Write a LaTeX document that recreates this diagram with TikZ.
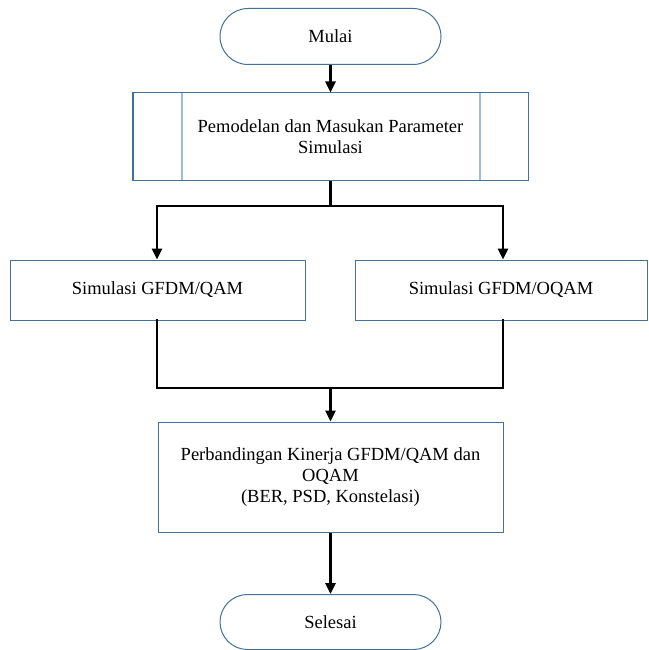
\documentclass[tikz,border=0pt]{standalone}
\usepackage{fontspec}
\setmainfont{Liberation Serif}
\usetikzlibrary{shapes.misc,arrows.meta,calc}
\definecolor{edgeblue}{RGB}{65,113,156}
\definecolor{innerblue}{RGB}{160,186,214}
\begin{document}
\begin{tikzpicture}[x=1pt,y=-1pt,
  every node/.style={font=\fontsize{18.5}{21}\selectfont, inner sep=0pt, align=center},
  term/.style={rounded rectangle, draw=edgeblue, line width=1pt, minimum width=221pt, minimum height=56pt},
  boxx/.style={rectangle, draw=edgeblue, line width=1pt},
  conn/.style={line width=2.6pt, black},
  arr/.style={conn, -{Triangle[width=10pt,length=11pt]}}
]
\useasboundingbox (0,0) rectangle (648,650);
\node[term] (start) at (330.5,36.5) {Mulai};
\node[boxx, minimum width=395pt, minimum height=87pt] (proc) at (330.5,136.5) {Pemodelan dan Masukan Parameter\\Simulasi};
\draw[innerblue, line width=2pt] ($(proc.north west)+(49,1)$) -- ($(proc.south west)+(49,-1)$);
\draw[innerblue, line width=2pt] ($(proc.north east)+(-49,1)$) -- ($(proc.south east)+(-49,-1)$);
\draw[edgeblue, line width=1pt] (proc.north west) rectangle (proc.south east);
\node[boxx, minimum width=295pt, minimum height=60pt] (qam) at (157.5,290) {Simulasi GFDM/QAM};
\node[boxx, minimum width=292pt, minimum height=60pt] (oqam) at (501,290) {Simulasi GFDM/OQAM};
\node[boxx, minimum width=345pt, minimum height=110pt] (cmp) at (330.5,477) {Perbandingan Kinerja GFDM/QAM dan\\OQAM\\(BER, PSD, Konstelasi)};
\node[term, minimum height=55pt] (end) at (330.5,622) {Selesai};
\coordinate (sC) at (330.5,206);
\coordinate (sL) at (157,206);
\coordinate (sR) at (503,206);
\coordinate (mC) at (330.5,388);
\coordinate (mL) at (157,388);
\coordinate (mR) at (503,388);
\draw[arr] (start.south) -- (proc.north);
\draw[conn] (proc.south) -- (sC);
\draw[conn, line cap=rect] (sL) -- (sR);
\draw[arr] (sL) -- (sL |- qam.north);
\draw[arr] (sR) -- (sR |- oqam.north);
\draw[conn, line cap=rect] (mL |- qam.south) -- (mL) -- (mR) -- (mR |- oqam.south);
\draw[arr] (mC) -- (cmp.north);
\draw[arr] (cmp.south) -- (end.north);
\end{tikzpicture}
\end{document}
